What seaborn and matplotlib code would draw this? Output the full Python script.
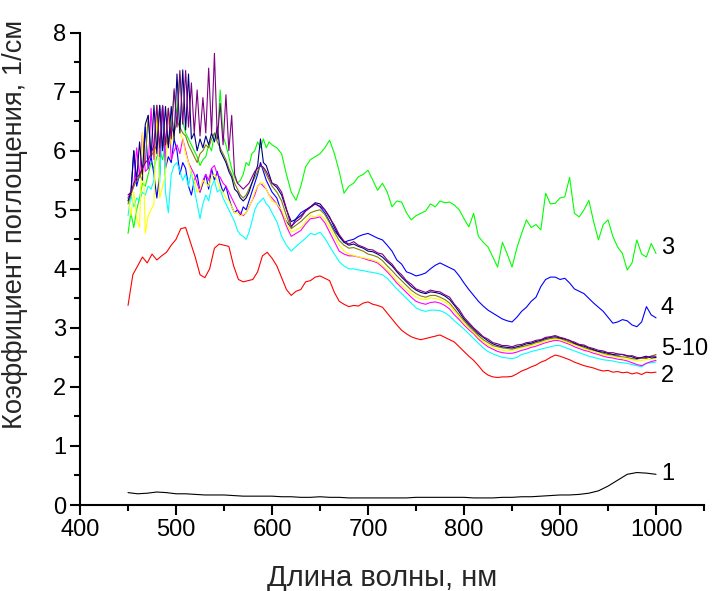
import numpy as np
import pandas as pd
import matplotlib
matplotlib.use("Agg")
import matplotlib.pyplot as plt
import seaborn as sns

# ---------------------------------------------------------------- wavelength grids (nm)
wl_fine = np.arange(450, 601, 3)      # 450 ... 600, step 3
wl_mid = np.arange(605, 1001, 5)      # 605 ... 1000, step 5
wl_red = np.arange(450, 1001, 5)      # 450 ... 1000, step 5
wl_black = np.arange(450, 1001, 10)   # 450 ... 1000, step 10

# ---------------------------------------------------------------- absorption, 1/cm
s1_black = [
    0.21, 0.19, 0.20, 0.22, 0.21, 0.19, 0.19, 0.18, 0.17, 0.17,
    0.17, 0.16, 0.15, 0.15, 0.15, 0.15, 0.14, 0.14, 0.13, 0.13,
    0.14, 0.13, 0.13, 0.12, 0.12, 0.12, 0.12, 0.12, 0.12, 0.12,
    0.13, 0.13, 0.13, 0.13, 0.13, 0.13, 0.12, 0.12, 0.12, 0.13,
    0.13, 0.14, 0.14, 0.15, 0.16, 0.17, 0.17, 0.18, 0.20, 0.24,
    0.32, 0.42, 0.52, 0.55, 0.54, 0.52,
]

s2_red = [
    3.38, 3.90, 4.05, 4.20, 4.10, 4.25, 4.15, 4.22, 4.28, 4.40,
    4.50, 4.68, 4.70, 4.45, 4.20, 3.90, 3.85, 4.00, 4.35, 4.42,
    4.40, 4.38, 4.05, 3.82, 3.78, 3.80, 3.82, 3.95, 4.22, 4.28,
    4.18, 4.05, 3.85, 3.65, 3.55, 3.62, 3.65, 3.78, 3.80, 3.86,
    3.88, 3.84, 3.80, 3.60, 3.45, 3.40, 3.36, 3.38, 3.37, 3.42,
    3.44, 3.40, 3.38, 3.35, 3.25, 3.15, 3.05, 2.96, 2.90, 2.85,
    2.82, 2.80, 2.82, 2.84, 2.86, 2.88, 2.84, 2.80, 2.76, 2.68,
    2.60, 2.52, 2.45, 2.36, 2.26, 2.20, 2.17, 2.16, 2.17, 2.17,
    2.18, 2.22, 2.27, 2.30, 2.34, 2.37, 2.42, 2.45, 2.50, 2.54,
    2.52, 2.49, 2.46, 2.42, 2.39, 2.36, 2.34, 2.32, 2.29, 2.27,
    2.28, 2.25, 2.26, 2.24, 2.25, 2.22, 2.24, 2.21, 2.25, 2.24,
    2.25,
]

s3_green_fine = [
    4.60, 4.95, 4.70, 5.00, 5.20, 5.45, 5.40, 5.60, 5.80, 5.70,
    5.90, 6.00, 5.85, 6.10, 6.20, 6.40, 7.00, 6.60, 7.30, 6.50,
    6.30, 6.20, 6.10, 6.00, 5.90, 5.75, 5.85, 5.90, 6.10, 6.00,
    6.30, 6.20, 7.03, 6.25, 6.10, 5.90, 5.70, 5.55, 5.45, 5.50,
    5.60, 5.80, 5.75, 5.95, 6.00, 6.15, 6.05, 6.20, 6.05, 6.15,
    6.10,
]
s3_green_mid = [
    6.05, 5.95, 5.60, 5.30, 5.16, 5.40, 5.73, 5.85, 5.90, 5.95,
    6.05, 6.18, 5.95, 5.65, 5.28, 5.40, 5.45, 5.56, 5.60, 5.67,
    5.50, 5.33, 5.45, 5.30, 5.05, 5.15, 5.13, 4.95, 4.83, 4.90,
    4.94, 4.98, 5.10, 5.05, 5.15, 5.12, 5.13, 5.08, 5.00, 4.85,
    4.71, 4.94, 4.55, 4.45, 4.37, 4.20, 4.03, 4.45, 4.25, 4.03,
    4.35, 4.60, 4.83, 4.70, 4.75, 4.66, 5.28, 5.10, 5.11, 5.20,
    5.22, 5.55, 4.94, 4.88, 5.00, 5.16, 4.80, 4.49, 4.75, 4.83,
    4.55, 4.37, 4.26, 3.98, 4.10, 4.49, 4.25, 4.20, 4.43, 4.26,
]

s4_blue_fine = [
    5.20, 5.25, 6.00, 5.40, 5.60, 5.50, 6.40, 5.70, 5.90, 5.60,
    5.20, 5.60, 6.77, 5.70, 5.90, 5.80, 6.20, 6.00, 5.60, 5.80,
    5.70, 5.40, 5.25, 5.50, 5.60, 5.30, 5.45, 5.60, 5.35, 5.70,
    5.50, 5.65, 5.45, 5.30, 5.40, 5.20, 5.05, 4.95, 5.00, 4.90,
    5.05, 5.00, 5.15, 5.30, 5.45, 5.60, 5.80, 5.65, 5.50, 5.40,
    5.30,
]
s4_blue_mid = [
    5.20, 4.95, 4.80, 4.70, 4.85, 4.95, 5.00, 5.05, 5.10, 5.05,
    4.95, 4.80, 4.65, 4.55, 4.45, 4.48, 4.50, 4.55, 4.58, 4.60,
    4.56, 4.52, 4.49, 4.40, 4.30, 4.15, 4.08, 3.95, 3.92, 3.88,
    3.90, 3.93, 4.00, 4.06, 4.10, 4.06, 4.02, 3.98, 3.88, 3.76,
    3.65, 3.55, 3.45, 3.37, 3.30, 3.25, 3.20, 3.15, 3.12, 3.10,
    3.18, 3.28, 3.35, 3.45, 3.52, 3.70, 3.82, 3.86, 3.86, 3.82,
    3.84, 3.76, 3.66, 3.62, 3.58, 3.50, 3.42, 3.35, 3.28, 3.18,
    3.08, 3.10, 3.14, 3.12, 3.05, 3.02, 3.10, 3.36, 3.22, 3.17,
]

s5_cyan_fine = [
    4.90, 5.25, 5.05, 5.20, 5.15, 5.30, 5.25, 5.40, 5.35, 5.50,
    6.77, 5.45, 6.76, 5.30, 4.95, 5.60, 5.75, 5.80, 5.65, 5.50,
    5.60, 5.40, 5.65, 5.35, 5.10, 4.85, 5.10, 5.25, 5.15, 5.40,
    5.50, 5.30, 5.35, 5.20, 5.10, 5.00, 4.90, 4.80, 4.65, 4.58,
    4.55, 4.50, 4.62, 4.80, 5.00, 5.10, 5.15, 5.20, 5.10, 5.05,
    4.95,
]
s5_cyan_mid = [
    4.80, 4.55, 4.40, 4.30, 4.38, 4.45, 4.52, 4.60, 4.58, 4.62,
    4.52, 4.38, 4.25, 4.12, 4.05, 4.00, 4.00, 3.98, 3.97, 3.95,
    3.94, 3.92, 3.90, 3.84, 3.75, 3.66, 3.58, 3.50, 3.42, 3.34,
    3.30, 3.28, 3.30, 3.30, 3.29, 3.26, 3.20, 3.12, 3.05, 2.98,
    2.90, 2.82, 2.74, 2.66, 2.60, 2.56, 2.53, 2.50, 2.49, 2.48,
    2.50, 2.55, 2.57, 2.60, 2.62, 2.64, 2.66, 2.68, 2.70, 2.70,
    2.67, 2.64, 2.61, 2.58, 2.55, 2.52, 2.50, 2.48, 2.46, 2.45,
    2.44, 2.42, 2.41, 2.40, 2.38, 2.36, 2.34, 2.40, 2.41, 2.42,
]

s6_magenta_fine = [
    5.20, 5.30, 5.40, 6.05, 5.55, 6.30, 5.65, 5.70, 6.72, 5.85,
    6.77, 5.90, 6.76, 5.80, 6.72, 5.85, 6.00, 6.10, 5.95, 6.20,
    6.00, 5.80, 5.70, 5.60, 5.45, 5.30, 5.50, 5.60, 5.50, 5.70,
    5.75, 5.60, 5.55, 5.45, 5.40, 5.30, 5.20, 5.10, 5.00, 4.95,
    4.90, 4.95, 5.05, 5.15, 5.25, 5.40, 5.45, 5.40, 5.35, 5.25,
    5.20,
]
s6_magenta_mid = [
    5.10, 4.95, 4.72, 4.55, 4.60, 4.65, 4.76, 4.85, 4.86, 4.88,
    4.78, 4.62, 4.46, 4.30, 4.25, 4.22, 4.22, 4.20, 4.18, 4.15,
    4.13, 4.10, 4.03, 3.95, 3.86, 3.76, 3.68, 3.60, 3.52, 3.45,
    3.42, 3.40, 3.43, 3.44, 3.42, 3.38, 3.32, 3.22, 3.14, 3.05,
    2.97, 2.90, 2.81, 2.74, 2.68, 2.64, 2.60, 2.58, 2.57, 2.57,
    2.59, 2.62, 2.64, 2.67, 2.69, 2.72, 2.75, 2.77, 2.79, 2.78,
    2.75, 2.72, 2.68, 2.65, 2.62, 2.60, 2.57, 2.55, 2.52, 2.50,
    2.49, 2.47, 2.46, 2.44, 2.41, 2.38, 2.36, 2.40, 2.43, 2.45,
]

s7_yellow_fine = [
    5.20, 4.90, 5.30, 4.85, 4.70, 6.30, 4.60, 4.90, 5.00, 5.10,
    6.77, 5.20, 5.40, 5.60, 6.72, 6.10, 6.40, 6.60, 6.30, 6.20,
    5.95, 5.80, 5.60, 5.50, 5.30, 5.35, 5.50, 5.45, 5.40, 5.55,
    5.60, 5.50, 5.35, 5.30, 5.20, 5.15, 5.05, 4.95, 4.95, 4.90,
    4.92, 4.95, 5.05, 5.15, 5.30, 5.40, 5.45, 5.45, 5.35, 5.25,
    5.15,
]
s7_yellow_mid = [
    5.10, 5.00, 4.78, 4.62, 4.66, 4.70, 4.80, 4.90, 4.88, 4.92,
    4.84, 4.70, 4.55, 4.40, 4.30, 4.25, 4.23, 4.20, 4.19, 4.17,
    4.15, 4.12, 4.06, 3.98, 3.90, 3.80, 3.72, 3.65, 3.58, 3.52,
    3.49, 3.48, 3.51, 3.50, 3.48, 3.44, 3.38, 3.28, 3.18, 3.08,
    3.00, 2.92, 2.84, 2.77, 2.71, 2.67, 2.64, 2.62, 2.61, 2.62,
    2.63, 2.66, 2.68, 2.70, 2.72, 2.75, 2.77, 2.80, 2.81, 2.80,
    2.77, 2.74, 2.71, 2.68, 2.65, 2.62, 2.60, 2.57, 2.55, 2.53,
    2.52, 2.50, 2.48, 2.47, 2.46, 2.44, 2.45, 2.46, 2.47, 2.48,
]

s8_olive_fine = [
    5.10, 5.25, 5.40, 5.50, 5.55, 5.70, 5.80, 6.60, 5.90, 6.00,
    6.10, 6.77, 6.05, 6.20, 6.10, 6.40, 6.30, 6.50, 6.40, 6.30,
    6.25, 6.10, 6.00, 5.90, 5.80, 5.95, 6.00, 6.10, 6.05, 6.20,
    6.30, 6.15, 6.05, 5.95, 5.85, 5.70, 5.60, 5.45, 5.35, 5.25,
    5.20, 5.25, 5.35, 5.45, 5.55, 5.65, 5.75, 5.70, 5.60, 5.50,
    5.40,
]
s8_olive_mid = [
    5.30, 5.15, 4.90, 4.68, 4.74, 4.80, 4.88, 4.95, 4.98, 5.00,
    4.92, 4.78, 4.62, 4.48, 4.40, 4.35, 4.36, 4.33, 4.30, 4.25,
    4.23, 4.20, 4.14, 4.05, 3.97, 3.88, 3.80, 3.72, 3.64, 3.58,
    3.54, 3.52, 3.55, 3.55, 3.52, 3.48, 3.42, 3.32, 3.22, 3.12,
    3.03, 2.95, 2.87, 2.80, 2.75, 2.70, 2.68, 2.66, 2.65, 2.64,
    2.66, 2.68, 2.70, 2.72, 2.75, 2.77, 2.80, 2.82, 2.83, 2.82,
    2.79, 2.76, 2.73, 2.70, 2.67, 2.64, 2.62, 2.60, 2.57, 2.55,
    2.54, 2.52, 2.51, 2.50, 2.48, 2.47, 2.49, 2.48, 2.52, 2.55,
]

s9_navy_fine = [
    5.15, 5.30, 6.00, 5.50, 6.15, 5.60, 6.45, 6.60, 5.90, 6.77,
    5.95, 6.77, 6.00, 6.75, 6.05, 6.75, 6.20, 7.30, 6.30, 7.37,
    6.35, 7.30, 6.20, 6.30, 6.00, 6.20, 6.05, 6.25, 6.10, 6.30,
    6.15, 6.40, 6.00, 5.90, 5.80, 5.65, 5.55, 5.35, 5.30, 5.20,
    5.15, 5.20, 5.30, 5.45, 5.60, 5.75, 6.20, 5.80, 5.75, 5.60,
    5.45,
]
s9_navy_mid = [
    5.38, 5.25, 5.00, 4.80, 4.84, 4.90, 4.98, 5.05, 5.12, 5.10,
    5.00, 4.88, 4.70, 4.55, 4.45, 4.40, 4.42, 4.38, 4.35, 4.30,
    4.29, 4.25, 4.20, 4.12, 4.05, 3.95, 3.86, 3.78, 3.70, 3.64,
    3.60, 3.58, 3.61, 3.60, 3.58, 3.54, 3.48, 3.38, 3.27, 3.15,
    3.06, 2.98, 2.90, 2.84, 2.78, 2.73, 2.70, 2.68, 2.67, 2.66,
    2.68, 2.70, 2.73, 2.74, 2.77, 2.79, 2.82, 2.84, 2.85, 2.83,
    2.81, 2.79, 2.74, 2.71, 2.69, 2.66, 2.63, 2.60, 2.59, 2.57,
    2.55, 2.54, 2.55, 2.53, 2.51, 2.48, 2.50, 2.52, 2.49, 2.50,
]

s10_purple_fine = [
    5.25, 5.30, 5.45, 5.55, 5.60, 5.70, 5.80, 5.85, 5.95, 6.10,
    6.77, 6.05, 6.76, 6.10, 6.72, 6.20, 7.05, 6.40, 7.36, 6.45,
    7.36, 6.40, 7.15, 6.30, 7.03, 6.25, 6.90, 6.30, 7.40, 6.30,
    7.65, 6.20, 6.80, 6.10, 6.95, 6.00, 6.60, 5.60, 5.45, 5.40,
    5.35, 5.40, 5.45, 5.55, 5.65, 5.70, 5.75, 5.72, 5.65, 5.55,
    5.45,
]
s10_purple_mid = [
    5.42, 5.30, 5.02, 4.72, 4.80, 4.86, 4.98, 5.04, 5.10, 5.06,
    5.00, 4.86, 4.74, 4.58, 4.47, 4.42, 4.46, 4.40, 4.37, 4.33,
    4.32, 4.27, 4.25, 4.15, 4.08, 3.97, 3.90, 3.80, 3.74, 3.66,
    3.63, 3.60, 3.64, 3.62, 3.61, 3.56, 3.52, 3.40, 3.31, 3.18,
    3.09, 3.00, 2.93, 2.85, 2.81, 2.75, 2.73, 2.70, 2.70, 2.68,
    2.71, 2.72, 2.75, 2.76, 2.79, 2.80, 2.84, 2.85, 2.87, 2.84,
    2.82, 2.78, 2.76, 2.72, 2.71, 2.67, 2.65, 2.62, 2.61, 2.58,
    2.58, 2.56, 2.55, 2.52, 2.53, 2.50, 2.49, 2.50, 2.52, 2.52,
]

curve_ids = ["1", "2", "3", "4", "5", "6", "7", "8", "9", "10"]
curve_colors = ["#000000", "#FF0000", "#00FF00", "#0000FF", "#00FFFF",
                "#FF00FF", "#FFFF00", "#808000", "#000080", "#800080"]
end_labels = ["1", "2", "3", "4", "5-10"]
end_label_y = [0.52, 2.18, 4.36, 3.34, 2.64]

# ---------------------------------------------------------------- long table
wl_split = np.concatenate([wl_fine, wl_mid])
series = {
    "1": (wl_black, s1_black),
    "2": (wl_red, s2_red),
    "3": (wl_split, s3_green_fine + s3_green_mid),
    "4": (wl_split, s4_blue_fine + s4_blue_mid),
    "5": (wl_split, s5_cyan_fine + s5_cyan_mid),
    "6": (wl_split, s6_magenta_fine + s6_magenta_mid),
    "7": (wl_split, s7_yellow_fine + s7_yellow_mid),
    "8": (wl_split, s8_olive_fine + s8_olive_mid),
    "9": (wl_split, s9_navy_fine + s9_navy_mid),
    "10": (wl_split, s10_purple_fine + s10_purple_mid),
}
frames = []
for cid, (x, y) in series.items():
    frames.append(pd.DataFrame({"wl": x, "k": np.asarray(y, float), "curve": cid}))
df = pd.concat(frames, ignore_index=True)

# ---------------------------------------------------------------- styling
sns.set_theme(style="ticks")
plt.rcParams["font.family"] = ["Liberation Sans", "DejaVu Sans"]
plt.rcParams.update({
    "axes.linewidth": 1.5,
    "xtick.major.width": 1.5, "ytick.major.width": 1.5,
    "xtick.minor.width": 1.5, "ytick.minor.width": 1.5,
    "xtick.major.size": 7, "ytick.major.size": 7,
    "xtick.minor.size": 4, "ytick.minor.size": 4,
    "xtick.direction": "out", "ytick.direction": "out",
    "axes.edgecolor": "black",
    "xtick.color": "black", "ytick.color": "black",
})

fig = plt.figure(figsize=(7.12, 5.91), dpi=100)
ax = fig.add_axes([0.1124, 0.1455, 0.8764, 0.7992])

sns.lineplot(data=df, x="wl", y="k", hue="curve", hue_order=curve_ids,
             palette=curve_colors, units="curve", estimator=None, sort=False,
             linewidth=0.8, legend=False, ax=ax)

ax.set_xlim(400, 1050)
ax.set_ylim(0, 8)
ax.set_xticks(np.arange(400, 1001, 100))
ax.set_xticks(np.arange(450, 1051, 50), minor=True)
ax.set_yticks(np.arange(0, 9, 1))
ax.set_yticks(np.arange(0.5, 8, 0.5), minor=True)
ax.tick_params(axis="both", which="major", labelsize=17, pad=3)
sns.despine(ax=ax)

ax.set_xlabel("Длина волны, нм", fontsize=21)
ax.set_ylabel("Коэффициент поглощения, 1/см", fontsize=19.6)
ax.xaxis.set_label_coords(0.484, -0.125)
ax.yaxis.set_label_coords(-0.083, 0.595)

for txt, yv in zip(end_labels, end_label_y):
    ax.text(1005, yv, txt, fontsize=17, va="center", ha="left", color="black",
            clip_on=False)

fig.savefig("out.png", dpi=100)
